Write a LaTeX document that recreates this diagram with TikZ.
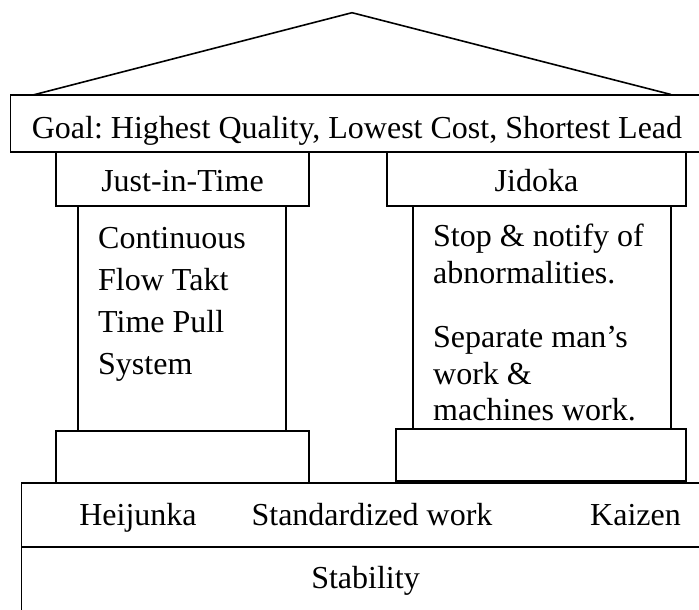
\documentclass[tikz,border=0pt]{standalone}
\usepackage{fontspec}
\setmainfont{Liberation Serif}
\frenchspacing
\begin{document}
\begin{tikzpicture}[x=1pt,y=-1pt,
  box/.style={draw=black, line width=1.5pt, inner sep=0pt, outer sep=0pt, anchor=north west},
  lbl/.style={inner sep=0pt, font=\fontsize{32}{38}\selectfont, anchor=base},
  lline/.style={inner sep=0pt, font=\fontsize{32}{38}\selectfont, anchor=base west}]
  \clip (0,0) rectangle (699,610);

  % roof
  \coordinate (roofL) at (33,95);
  \coordinate (apex) at (352,12.7);
  \coordinate (roofR) at (671,94.5);
  \draw[line width=1.6pt, line join=miter] (roofL) -- (apex) -- (roofR);

  % goal beam
  \node[box, minimum width=693pt, minimum height=57pt] (goal) at (10.7,95) {};
  \node[lbl] (goaltxt) at (357,138) {Goal: Highest Quality, Lowest Cost, Shortest Lead};

  % pillar capitals
  \node[box, minimum width=253pt, minimum height=54pt] (jitcap) at (56,152) {};
  \node[box, minimum width=299pt, minimum height=54pt] (jidcap) at (387,152) {};
  \node[lbl] (jittxt) at (182.5,191) {Just-in-Time};
  \node[lbl] (jidtxt) at (536.5,191) {Jidoka};

  % pillar shafts
  \node[box, minimum width=208pt, minimum height=225pt] (jitcol) at (78,206) {};
  \node[box, minimum width=258pt, minimum height=223pt] (jidcol) at (413,206) {};

  \node[lline] (j1) at (98,248) {Continuous};
  \node[lline] (j2) at (98,290) {Flow Takt};
  \node[lline] (j3) at (98,332) {Time Pull};
  \node[lline] (j4) at (98,374) {System};

  \node[lline] (d1) at (433,246) {Stop \& notify of};
  \node[lline] (d2) at (433,283) {abnormalities.};
  \node[lline] (d3) at (433,347) {Separate man’s};
  \node[lline] (d4) at (433,384) {work \&};
  \node[lline] (d5) at (433,420) {machines work.};

  % pillar bases
  \node[box, minimum width=253pt, minimum height=52pt] (jitbase) at (56,431) {};
  \node[box, minimum width=290pt, minimum height=52pt] (jidbase) at (396,429) {};

  % foundation
  \node[box, minimum width=683pt, minimum height=64pt] (found) at (21.7,483) {};
  \node[box, minimum width=683pt, minimum height=70pt] (stab) at (21.7,547) {};

  \node[lbl] (heij) at (138,525) {Heijunka};
  \node[lbl] (std) at (372,525) {Standardized work};
  \node[lbl] (kaiz) at (635.5,525) {Kaizen};
  \node[lbl] (stabtxt) at (365.5,588) {Stability};
\end{tikzpicture}
\end{document}
